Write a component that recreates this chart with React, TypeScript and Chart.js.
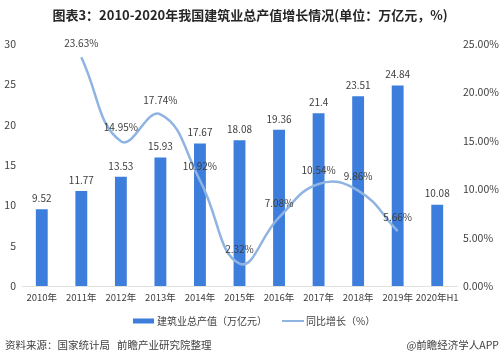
import React, { useEffect, useRef } from "react";
import { Chart, registerables } from "chart.js";

Chart.register(...registerables);

const categories = ["2010年", "2011年", "2012年", "2013年", "2014年", "2015年", "2016年", "2017年", "2018年", "2019年", "2020年H1"];
const outputValues = [9.52, 11.77, 13.53, 15.93, 17.67, 18.08, 19.36, 21.4, 23.51, 24.84, 10.08];
const growthValues: (number | null)[] = [null, 23.63, 14.95, 17.74, 10.92, 2.32, 7.08, 10.54, 9.86, 5.66, null];
const leftTicks = [0, 5, 10, 15, 20, 25, 30];
const rightTicks = [0, 5, 10, 15, 20, 25];

const titleText = "图表3：2010-2020年我国建筑业总产值增长情况(单位：万亿元，%)";
const barLegend = "建筑业总产值（万亿元）";
const lineLegend = "同比增长（%）";
const sourceText = "资料来源：国家统计局   前瞻产业研究院整理";
const brandText = "@前瞻经济学人APP";

const BAR_COLOR = "#3d7ddc";
const LINE_COLOR = "#8fb4e2";
const TEXT_COLOR = "#404040";
const FONT = "'Noto Sans CJK SC', 'Noto Sans', sans-serif";

const decorPlugin = {
  id: "decor",
  afterDatasetsDraw(chart: any) {
    const ctx = chart.ctx;
    ctx.save();
    const barMeta = chart.getDatasetMeta(0);
    ctx.fillStyle = TEXT_COLOR;
    ctx.font = `10px ${FONT}`;
    ctx.textAlign = "center";
    ctx.textBaseline = "middle";
    barMeta.data.forEach((el: any, i: number) => {
      ctx.fillText(String(outputValues[i]), el.x, el.y - 11);
    });
    const lineMeta = chart.getDatasetMeta(1);
    lineMeta.data.forEach((el: any, i: number) => {
      const v = growthValues[i];
      if (v === null || v === undefined) return;
      ctx.fillText(v.toFixed(2) + "%", el.x, el.y - 14);
    });
    ctx.restore();
  },
  afterDraw(chart: any) {
    const ctx = chart.ctx;
    ctx.save();
    ctx.fillStyle = "#262626";
    ctx.font = `bold 13px ${FONT}`;
    ctx.textAlign = "center";
    ctx.textBaseline = "middle";
    ctx.fillText(titleText, 250, 15);
    ctx.fillStyle = BAR_COLOR;
    ctx.fillRect(133, 318.5, 21, 5);
    ctx.strokeStyle = LINE_COLOR;
    ctx.lineWidth = 2;
    ctx.beginPath();
    ctx.moveTo(282, 321);
    ctx.lineTo(304, 321);
    ctx.stroke();
    ctx.fillStyle = TEXT_COLOR;
    ctx.font = `10px ${FONT}`;
    ctx.textAlign = "left";
    ctx.fillText(barLegend, 157, 321);
    ctx.fillText(lineLegend, 306, 321);
    ctx.font = `10.5px ${FONT}`;
    ctx.fillStyle = "#404040";
    ctx.textAlign = "left";
    ctx.fillText(sourceText, 5, 345);
    ctx.textAlign = "right";
    ctx.fillText(brandText, 499, 345);
    ctx.restore();
  },
};

export default function App() {
  const canvasRef = useRef<HTMLCanvasElement | null>(null);
  useEffect(() => {
    if (!canvasRef.current) return;
    const chart = new Chart(canvasRef.current, {
      type: "bar",
      data: {
        labels: categories,
        datasets: [
          {
            type: "bar",
            label: barLegend,
            data: outputValues,
            backgroundColor: BAR_COLOR,
            yAxisID: "y",
            barPercentage: 0.3,
            categoryPercentage: 1,
            order: 2,
          } as any,
          {
            type: "line",
            label: lineLegend,
            data: growthValues,
            borderColor: LINE_COLOR,
            borderWidth: 2.5,
            pointRadius: 0,
            tension: 0.45,
            yAxisID: "y1",
            order: 1,
            spanGaps: false,
          } as any,
        ],
      },
      options: {
        animation: false,
        responsive: true,
        maintainAspectRatio: false,
        layout: { padding: { top: 44, bottom: 0, left: 0, right: 0 } },
        plugins: { legend: { display: false }, title: { display: false }, tooltip: { enabled: false } },
        scales: {
          x: {
            grid: { display: false, drawTicks: false },
            border: { display: true, color: "#e3e3e3" },
            ticks: { font: { size: 9.5, family: FONT }, color: "#404040", padding: 6, maxRotation: 0, autoSkip: false },
            afterFit: (s: any) => { s.height = 76; },
          },
          y: {
            position: "left",
            min: 0,
            max: 30,
            afterBuildTicks: (s: any) => { s.ticks = leftTicks.map((v) => ({ value: v })); },
            grid: { display: false, drawTicks: false },
            border: { display: false },
            ticks: { font: { size: 10.5, family: FONT }, color: "#404040", padding: 6 },
            afterFit: (s: any) => { s.width = 22; },
          },
          y1: {
            position: "right",
            min: 0,
            max: 25,
            afterBuildTicks: (s: any) => { s.ticks = rightTicks.map((v) => ({ value: v })); },
            grid: { display: false, drawTicks: false },
            border: { display: false },
            ticks: {
              font: { size: 10.5, family: FONT },
              color: "#404040",
              padding: 6,
              callback: (v: any) => Number(v).toFixed(2) + "%",
            },
            afterFit: (s: any) => { s.width = 43; },
          },
        },
      },
      plugins: [decorPlugin],
    });
    return () => chart.destroy();
  }, []);
  return (
    <div style={{ position: "absolute", left: 0, top: 0, width: 500, height: 362, background: "#ffffff" }}>
      <canvas ref={canvasRef} />
    </div>
  );
}
